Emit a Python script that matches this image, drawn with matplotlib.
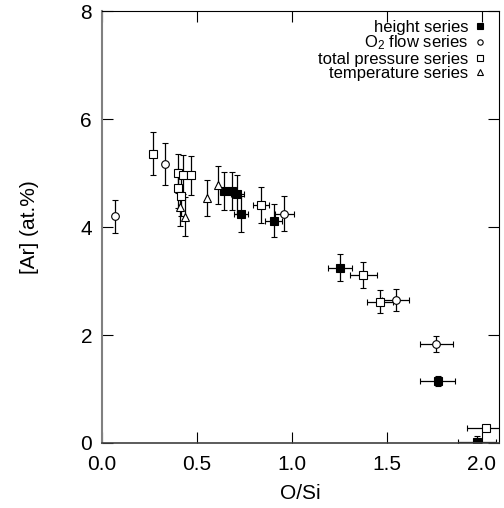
import matplotlib
matplotlib.use("Agg")
import matplotlib.pyplot as plt

plt.rcParams['font.family'] = ['Liberation Sans', 'DejaVu Sans']
plt.rcParams['mathtext.default'] = 'regular'

# height series (filled squares)
h_x = [0.643, 0.684, 0.714, 0.733, 0.904, 1.253, 1.767, 1.975]
h_y = [4.67, 4.67, 4.61, 4.24, 4.12, 3.25, 1.15, 0.02]
h_xerr = [0.02, 0.02, 0.035, 0.037, 0.044, 0.063, 0.09, 0.10]
h_yerr = [0.35, 0.35, 0.36, 0.34, 0.31, 0.25, 0.10, 0.10]

# O2 flow series (open circles)
o_x = [0.068, 0.332, 0.961, 1.546, 1.760]
o_y = [4.20, 5.17, 4.25, 2.65, 1.83]
o_xerr = [0.0, 0.0, 0.05, 0.07, 0.088]
o_yerr = [0.31, 0.39, 0.32, 0.20, 0.15]

# total pressure series (open squares)
p_x = [0.272, 0.400, 0.428, 0.468, 0.402, 0.419, 0.838, 1.377, 1.463, 2.020]
p_y = [5.36, 5.00, 4.97, 4.96, 4.72, 4.57, 4.41, 3.12, 2.62, 0.27]
p_xerr = [0.0, 0.0, 0.0, 0.0, 0.0, 0.0, 0.04, 0.072, 0.07, 0.10]
p_yerr = [0.40, 0.36, 0.36, 0.36, 0.36, 0.36, 0.33, 0.24, 0.21, 0.0]

# temperature series (open triangles)
t_x = [0.410, 0.437, 0.554, 0.612]
t_y = [4.38, 4.19, 4.54, 4.78]
t_xerr = [0.0, 0.0, 0.0, 0.0]
t_yerr = [0.36, 0.36, 0.33, 0.35]

fig = plt.figure(figsize=(5.04, 5.08), dpi=100)
ax = fig.add_axes([0.202, 0.128, 0.788, 0.850])

style = dict(ls='none', ecolor='black', elinewidth=0.9, capsize=2.2, capthick=0.9,
             markeredgecolor='black', markeredgewidth=0.8, markersize=5.5)
ax.errorbar(h_x, h_y, xerr=h_xerr, yerr=h_yerr, fmt='s', mfc='black', label='height series', **style)
ax.errorbar(o_x, o_y, xerr=o_xerr, yerr=o_yerr, fmt='o', mfc='white', label='O$_2$ flow series', **style)
ax.errorbar(p_x, p_y, xerr=p_xerr, yerr=p_yerr, fmt='s', mfc='white', label='total pressure series', **style)
ax.errorbar(t_x, t_y, xerr=t_xerr, yerr=t_yerr, fmt='^', mfc='white', label='temperature series', **style)

ax.set_xlim(0, 2.09)
ax.set_ylim(0, 8)
ax.set_xticks([0.0, 0.5, 1.0, 1.5, 2.0])
ax.set_xticklabels(['0.0', '0.5', '1.0', '1.5', '2.0'])
ax.set_yticks([0, 2, 4, 6, 8])
ax.tick_params(direction='in', length=8, width=0.8, labelsize=15, top=True, right=True)
ax.tick_params(axis='x', pad=9)
ax.tick_params(axis='y', pad=7)

ax.spines['left'].set_color('#808080')
ax.spines['left'].set_linewidth(1.5)
ax.spines['bottom'].set_color('#404040')
ax.spines['bottom'].set_linewidth(1.2)
ax.spines['top'].set_linewidth(0.8)
ax.spines['right'].set_linewidth(0.8)

ax.set_xlabel('O/Si', fontsize=15, labelpad=7)
ax.set_ylabel('[Ar] (at.%)', fontsize=15, labelpad=30)

handles, labels = ax.get_legend_handles_labels()
handles = [h[0] for h in handles]
leg = ax.legend(handles, labels, loc='upper right', bbox_to_anchor=(0.985, 1.0),
                frameon=False, markerfirst=False, fontsize=12, markerscale=0.7,
                handlelength=0.6, handletextpad=0.4, labelspacing=-0.05, borderaxespad=0.1)

fig.savefig('out.png', dpi=100)
